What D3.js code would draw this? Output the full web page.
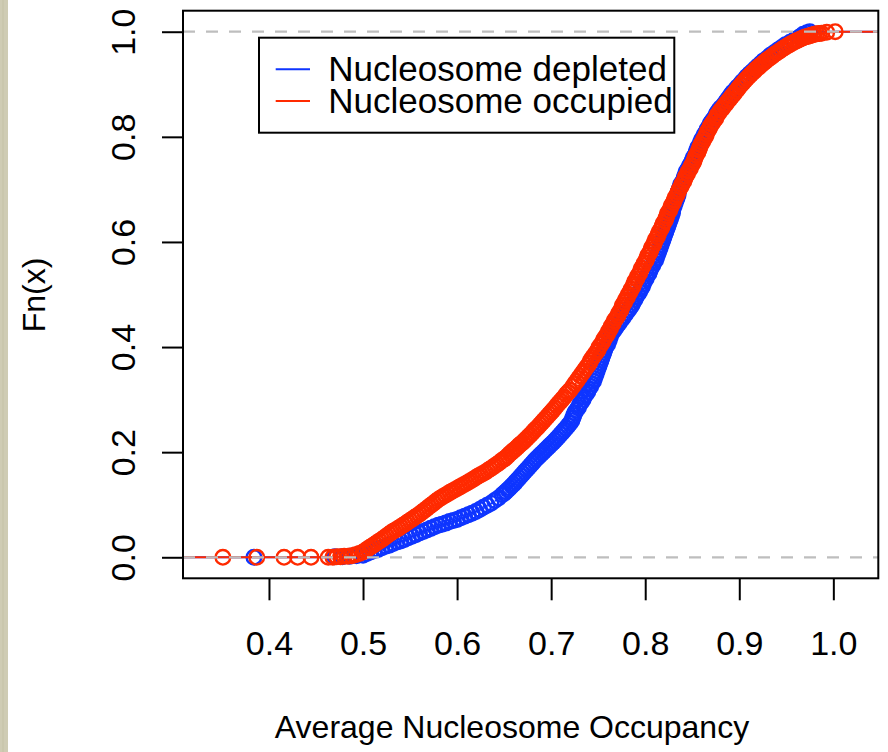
<!DOCTYPE html>
<html>
<head>
<meta charset="utf-8">
<script src="https://cdn.jsdelivr.net/npm/d3@7"></script>
<style>
  body { margin: 0; background: #fff; }
  svg { display: block; }
  text { font-family: "Liberation Sans", Arial, Helvetica, sans-serif; fill: #000; }
</style>
</head>
<body>
<script>
// ECDF points: [average occupancy, Fn(x)]
const redPts = [
  [0.351,0],[0.387,0],[0.416,0],[0.4305,0],[0.4447,0],[0.463,0],[0.468,0],[0.472,0.001],[0.476,0.001],[0.480,0.002],[0.484,0.002],[0.488,0.003],[0.492,0.005],[0.496,0.007],
  [0.5000,0.010],[0.5025,0.013],[0.5050,0.016],[0.5075,0.019],[0.5100,0.022],[0.5125,0.025],[0.5150,0.028],[0.5175,0.031],[0.5200,0.034],[0.5225,0.037],[0.5250,0.0405],[0.5275,0.044],[0.5300,0.047],[0.5325,0.050],[0.5350,0.0525],[0.5375,0.055],[0.5400,0.058],[0.5425,0.061],[0.5450,0.064],[0.5475,0.067],[0.5500,0.070],[0.5525,0.073],[0.5550,0.076],[0.5575,0.079],[0.5600,0.082],[0.5625,0.0855],[0.5650,0.089],[0.5675,0.0925],[0.5700,0.096],[0.5725,0.0995],[0.5750,0.103],[0.5775,0.1065],[0.5800,0.110],[0.5825,0.113],[0.5850,0.1155],[0.5875,0.118],[0.5900,0.121],[0.5925,0.1235],[0.5950,0.126],[0.5975,0.1285],[0.6000,0.131],[0.6025,0.1335],[0.6050,0.136],[0.6075,0.1385],[0.6100,0.141],[0.6125,0.1435],[0.6150,0.146],[0.6175,0.149],[0.6200,0.152],[0.6225,0.1545],[0.6250,0.157],[0.6275,0.1595],[0.6300,0.162],[0.6325,0.165],[0.6350,0.168],[0.6375,0.171],[0.6400,0.174],[0.6425,0.177],[0.6450,0.1805],[0.6475,0.184],[0.6500,0.187],
  [0.652,0.190],[0.654,0.193],[0.656,0.197],[0.658,0.200],[0.660,0.203],[0.662,0.206],[0.664,0.2095],[0.666,0.213],[0.668,0.216],[0.670,0.219],[0.672,0.2225],[0.674,0.226],[0.676,0.230],[0.678,0.233],[0.680,0.237],[0.682,0.241],[0.684,0.2445],[0.686,0.248],[0.688,0.252],[0.690,0.256],[0.692,0.260],[0.694,0.264],[0.696,0.268],[0.698,0.272],[0.700,0.276],[0.702,0.280],[0.704,0.284],[0.706,0.289],[0.708,0.293],[0.710,0.297],[0.712,0.301],[0.714,0.305],[0.716,0.310],[0.718,0.314],[0.720,0.318],
  [0.723,0.325],[0.725,0.330],[0.727,0.335],[0.729,0.340],[0.731,0.345],[0.733,0.350],[0.735,0.355],[0.737,0.360],[0.739,0.365],[0.741,0.370],[0.742,0.375],[0.744,0.380],[0.746,0.385],[0.748,0.390],[0.750,0.395],
  [0.751,0.400],[0.753,0.405],[0.755,0.410],[0.756,0.415],[0.758,0.420],[0.760,0.425],[0.761,0.430],[0.763,0.435],[0.764,0.440],[0.766,0.445],[0.767,0.450],[0.769,0.455],[0.771,0.460],[0.772,0.465],[0.774,0.470],[0.775,0.475],[0.776,0.480],[0.778,0.485],[0.779,0.490],[0.781,0.495],[0.782,0.500],[0.784,0.505],[0.785,0.510],[0.787,0.515],[0.788,0.520],[0.789,0.525],[0.791,0.530],[0.792,0.535],[0.794,0.540],[0.795,0.545],[0.796,0.550],[0.798,0.555],[0.799,0.560],[0.801,0.565],[0.802,0.570],[0.803,0.575],[0.805,0.580],[0.806,0.585],[0.807,0.590],[0.809,0.595],[0.810,0.600],[0.811,0.605],[0.813,0.610],[0.814,0.615],[0.815,0.620],[0.817,0.625],[0.818,0.630],[0.819,0.635],[0.821,0.640],[0.822,0.645],[0.823,0.650],[0.824,0.655],[0.826,0.660],[0.827,0.665],[0.828,0.670],[0.830,0.675],[0.831,0.680],[0.832,0.685],[0.834,0.690],[0.835,0.695],[0.836,0.700],[0.838,0.705],[0.839,0.710],[0.841,0.715],[0.842,0.720],[0.843,0.725],[0.845,0.730],[0.846,0.735],[0.848,0.740],[0.849,0.745],[0.851,0.750],[0.852,0.755],[0.853,0.760],[0.854,0.765],[0.856,0.770],[0.857,0.775],[0.858,0.780],[0.859,0.785],[0.861,0.790],[0.862,0.795],[0.864,0.800],[0.865,0.805],[0.866,0.810],[0.868,0.815],[0.869,0.820],[0.871,0.825],[0.873,0.830],[0.875,0.835],[0.876,0.840],[0.878,0.845],
  [0.880,0.850],[0.882,0.854],[0.884,0.859],[0.886,0.863],[0.888,0.868],[0.890,0.872],[0.892,0.877],[0.894,0.881],[0.896,0.886],[0.898,0.890],[0.900,0.895],[0.902,0.899],[0.904,0.903],[0.906,0.907],[0.908,0.911],[0.910,0.915],[0.912,0.918],[0.914,0.922],[0.916,0.925],[0.918,0.929],[0.920,0.932],[0.922,0.935],[0.924,0.938],[0.926,0.941],[0.928,0.944],[0.930,0.947],
  [0.9325,0.950],[0.935,0.9535],[0.9375,0.957],[0.940,0.960],[0.9425,0.963],[0.945,0.966],[0.9475,0.969],[0.950,0.972],[0.9525,0.9745],[0.955,0.977],[0.9575,0.9795],[0.960,0.982],[0.9625,0.984],[0.965,0.986],[0.9675,0.988],[0.970,0.990],[0.9725,0.991],[0.975,0.9925],[0.9775,0.994],[0.980,0.995],[0.9825,0.996],[0.985,0.9965],[0.9875,0.997],[0.993,0.999],[1.002,1.000]
];

const bluePts = [
  [0.384,0],[0.470,0.001],[0.478,0.001],[0.486,0.002],[0.493,0.003],
  [0.500,0.004],[0.504,0.007],[0.508,0.010],[0.512,0.013],[0.516,0.015],[0.520,0.018],[0.524,0.021],[0.528,0.023],[0.532,0.026],[0.536,0.029],[0.540,0.031],[0.544,0.034],[0.548,0.037],[0.552,0.040],[0.556,0.043],[0.560,0.046],[0.564,0.049],[0.568,0.052],[0.572,0.055],[0.576,0.058],[0.580,0.061],[0.584,0.063],[0.588,0.065],[0.592,0.068],[0.596,0.070],[0.600,0.072],[0.604,0.075],[0.608,0.078],[0.612,0.081],[0.616,0.084],[0.620,0.087],[0.624,0.091],[0.628,0.095],[0.632,0.099],[0.636,0.103],[0.640,0.108],[0.644,0.113],
  [0.648,0.119],[0.650,0.122],[0.652,0.125],[0.654,0.1285],[0.656,0.132],[0.658,0.1355],[0.660,0.139],[0.662,0.143],[0.664,0.147],[0.666,0.151],[0.668,0.155],[0.670,0.159],[0.672,0.163],[0.674,0.167],[0.676,0.171],[0.678,0.175],[0.680,0.179],[0.682,0.183],[0.684,0.187],[0.686,0.1905],[0.688,0.194],[0.690,0.1975],[0.692,0.201],[0.694,0.2045],[0.696,0.208],[0.698,0.2115],[0.700,0.215],[0.702,0.2185],[0.704,0.222],[0.706,0.226],[0.708,0.230],[0.710,0.234],[0.712,0.238],[0.714,0.242],[0.716,0.246],[0.718,0.2505],[0.720,0.255],
  [0.722,0.260],[0.723,0.265],[0.724,0.270],[0.725,0.275],[0.727,0.280],[0.729,0.285],[0.730,0.290],[0.732,0.295],[0.734,0.300],[0.735,0.305],[0.737,0.310],[0.739,0.315],[0.740,0.320],[0.742,0.325],[0.743,0.330],[0.745,0.335],[0.746,0.340],[0.747,0.345],[0.748,0.350],[0.749,0.355],[0.750,0.360],[0.751,0.365],[0.752,0.370],[0.753,0.375],[0.754,0.380],[0.755,0.385],[0.756,0.390],[0.757,0.395],[0.758,0.400],[0.760,0.405],[0.761,0.410],[0.762,0.415],[0.763,0.420],[0.764,0.425],[0.766,0.430],[0.768,0.435],[0.770,0.440],[0.772,0.445],[0.774,0.450],[0.776,0.455],[0.778,0.460],[0.780,0.465],[0.782,0.470],[0.784,0.475],[0.786,0.480],[0.787,0.485],[0.789,0.490],[0.790,0.495],[0.792,0.500],
  [0.794,0.505],[0.795,0.510],[0.797,0.515],[0.798,0.520],[0.799,0.525],[0.801,0.530],[0.802,0.535],[0.804,0.540],[0.805,0.545],[0.806,0.550],[0.808,0.555],[0.809,0.560],[0.811,0.565],[0.812,0.570],[0.813,0.575],[0.814,0.580],[0.815,0.585],[0.816,0.590],[0.817,0.595],[0.818,0.600],[0.819,0.605],[0.820,0.610],[0.821,0.615],[0.822,0.620],[0.823,0.625],[0.824,0.630],[0.825,0.635],[0.826,0.640],[0.827,0.645],[0.828,0.650],[0.829,0.655],[0.829,0.660],[0.830,0.665],[0.831,0.670],[0.832,0.675],[0.833,0.680],[0.834,0.685],[0.835,0.690],[0.835,0.695],
  [0.836,0.700],[0.837,0.705],[0.838,0.710],[0.840,0.715],[0.841,0.720],[0.842,0.725],[0.843,0.730],[0.844,0.735],[0.846,0.740],[0.847,0.745],[0.849,0.750],[0.850,0.755],[0.851,0.760],[0.853,0.765],[0.854,0.770],[0.855,0.775],[0.856,0.780],[0.858,0.785],[0.859,0.790],[0.860,0.795],[0.862,0.800],[0.863,0.805],[0.865,0.810],[0.866,0.815],[0.868,0.820],[0.869,0.825],[0.871,0.830],[0.873,0.835],[0.875,0.840],[0.876,0.845],[0.878,0.850],[0.880,0.855],[0.883,0.860],[0.885,0.865],[0.887,0.870],[0.889,0.875],[0.891,0.880],[0.893,0.885],[0.896,0.890],[0.898,0.895],[0.901,0.900],[0.903,0.905],[0.906,0.910],[0.908,0.915],[0.911,0.920],[0.914,0.925],[0.917,0.930],[0.920,0.935],[0.923,0.940],[0.926,0.945],[0.930,0.950],[0.933,0.955],[0.937,0.960],[0.941,0.965],[0.945,0.970],[0.949,0.975],[0.954,0.980],[0.959,0.985],[0.964,0.990],[0.968,0.995],[0.972,0.998],[0.975,1.000]
];

const seriesNames = ["Nucleosome depleted", "Nucleosome occupied"];
const seriesColors = ["#0e35ff", "#ff2a00"];
const xTicks = [0.4, 0.5, 0.6, 0.7, 0.8, 0.9, 1.0];
const yTicks = [0.0, 0.2, 0.4, 0.6, 0.8, 1.0];
const xTitle = "Average Nucleosome Occupancy";
const yTitle = "Fn(x)";

const width = 888, height = 752;
const box = {left: 183, right: 878.3, top: 10.7, bottom: 578.3};

const svg = d3.select("body").append("svg")
  .attr("width", width)
  .attr("height", height);

svg.append("rect").attr("width", width).attr("height", height).attr("fill", "#fff");
// textured paper strip at the left edge
svg.append("rect").attr("x", 0).attr("y", 0).attr("width", 8).attr("height", height).attr("fill", "#cfccb4");
svg.append("rect").attr("x", 2).attr("y", 0).attr("width", 2).attr("height", height).attr("fill", "#c6c3a9").attr("opacity", 0.6);

const x = d3.scaleLinear().domain([0.3086, 1.0478]).range([box.left, box.right]);
const y = d3.scaleLinear().domain([-0.04, 1.04]).range([box.bottom, box.top]);

const plot = svg.append("g");
plot.append("clipPath").attr("id", "clip")
  .append("rect")
  .attr("x", box.left).attr("y", box.top)
  .attr("width", box.right - box.left).attr("height", box.bottom - box.top);

/* horizontal steps of an ecdf, from the left edge to the right edge */
const stepPath = (pts) => {
  let p = `M${box.left},${y(0)}H${x(pts[0][0])}`;
  for (let i = 0; i < pts.length - 1; i++) {
    p += `M${x(pts[i][0])},${y(pts[i][1])}H${x(pts[i + 1][0])}`;
  }
  const last = pts[pts.length - 1];
  p += `M${x(last[0])},${y(last[1])}H${box.right}`;
  return p;
};

[bluePts, redPts].forEach((pts, k) => {
  const g = plot.append("g").attr("clip-path", "url(#clip)");
  g.append("path")
    .attr("d", stepPath(pts))
    .attr("fill", "none")
    .attr("stroke", seriesColors[k])
    .attr("stroke-width", 2);
  g.selectAll("circle")
    .data(pts)
    .enter()
    .append("circle")
    .attr("cx", (d) => x(d[0]))
    .attr("cy", (d) => y(d[1]))
    .attr("r", 7.3)
    .attr("fill", "none")
    .attr("stroke", seriesColors[k])
    .attr("stroke-width", 2.4);
});

// grey dashed lines at 0 and 1 (drawn over the points, as abline does)
plot.selectAll(".ref01")
  .data([0, 1])
  .enter()
  .append("line")
  .attr("class", "ref01")
  .attr("x1", box.left).attr("x2", box.right)
  .attr("y1", (d) => y(d)).attr("y2", (d) => y(d))
  .attr("stroke", "#bebebe")
  .attr("stroke-width", 2.2)
  .attr("stroke-dasharray", "12,11");

// axes
const xAxis = svg.append("g")
  .attr("transform", `translate(0,${box.bottom})`)
  .call(d3.axisBottom(x).tickValues(xTicks).tickSize(22).tickPadding(31).tickFormat(d3.format(".1f")));
xAxis.select(".domain").remove();
xAxis.selectAll("line").attr("stroke", "#000").attr("stroke-width", 2);
xAxis.selectAll("text").attr("font-size", "34px").attr("font-family", null);

const yAxis = svg.append("g")
  .attr("transform", `translate(${box.left},0)`)
  .call(d3.axisLeft(y).tickValues(yTicks).tickSize(21).tickFormat(d3.format(".1f")));
yAxis.select(".domain").remove();
yAxis.selectAll("line").attr("stroke", "#000").attr("stroke-width", 2);
yAxis.selectAll("text")
  .attr("x", 0).attr("dy", 0)
  .attr("text-anchor", "middle")
  .attr("font-size", "34px").attr("font-family", null)
  .attr("transform", `translate(${135 - box.left},0) rotate(-90)`);

svg.append("rect")
  .attr("x", box.left).attr("y", box.top)
  .attr("width", box.right - box.left).attr("height", box.bottom - box.top)
  .attr("fill", "none").attr("stroke", "#000").attr("stroke-width", 2);

svg.append("text")
  .attr("x", 512).attr("y", 738)
  .attr("text-anchor", "middle")
  .attr("font-size", "32px")
  .text(xTitle);

svg.append("text")
  .attr("transform", `translate(45,295) rotate(-90)`)
  .attr("text-anchor", "middle")
  .attr("font-size", "32px")
  .text(yTitle);

// legend
const legend = svg.append("g");
legend.append("rect")
  .attr("x", 259).attr("y", 37.7).attr("width", 415.3).attr("height", 95)
  .attr("fill", "#fff").attr("stroke", "#000").attr("stroke-width", 2);
const items = legend.selectAll(".item")
  .data(seriesNames)
  .enter()
  .append("g")
  .attr("transform", (d, i) => `translate(0,${69.3 + i * 31.7})`);
items.append("line")
  .attr("x1", 275.7).attr("x2", 310)
  .attr("stroke", (d, i) => seriesColors[i])
  .attr("stroke-width", 2);
items.append("text")
  .attr("x", 328.3).attr("y", 12)
  .attr("font-size", "35px")
  .text((d) => d);
</script>
</body>
</html>
